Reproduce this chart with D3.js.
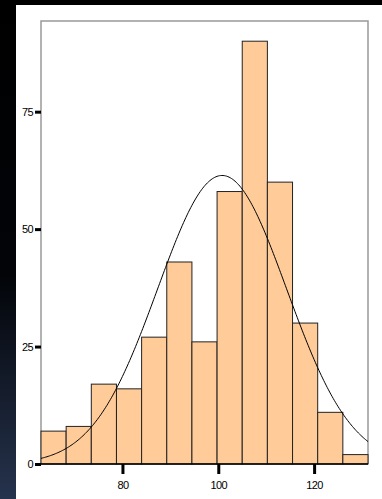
<!DOCTYPE html>
<html>
<head>
<meta charset="utf-8">
<script src="https://cdn.jsdelivr.net/npm/d3@7"></script>
<style>
  html, body { margin: 0; padding: 0; background: #000; }
  svg { display: block; }
  text { font-family: "Liberation Sans", Arial, sans-serif; font-size: 11px; fill: #000; }
</style>
</head>
<body>
<div id="chart"></div>
<script>
// Histogram bins (lower edges) and counts
const binStart = 63;
const binWidth = 5.25;
const counts = [7, 8, 17, 16, 27, 43, 26, 58, 90, 60, 30, 11, 2];
const xTicks = [80, 100, 120];
const yTicks = [0, 25, 50, 75];
// Fitted normal curve parameters
const mean = 100.8;
const stdDev = 13.47;

const width = 382, height = 499;
const margin = { left: 41, top: 21, right: 14, bottom: 35 };

const svg = d3.select("#chart")
    .append("svg")
    .attr("width", width)
    .attr("height", height);

// Background: dark strip on the left with a gradient, white panel
const defs = svg.append("defs");
const grad = defs.append("linearGradient")
    .attr("id", "bg")
    .attr("x1", 0).attr("y1", 0).attr("x2", 0).attr("y2", 1);
grad.append("stop").attr("offset", "0%").attr("stop-color", "#000");
grad.append("stop").attr("offset", "55%").attr("stop-color", "#020408");
grad.append("stop").attr("offset", "100%").attr("stop-color", "#26334d");

svg.append("rect")
    .attr("width", width).attr("height", height)
    .attr("fill", "url(#bg)");
svg.append("rect")
    .attr("x", 16).attr("y", 5)
    .attr("width", width - 16).attr("height", height - 5)
    .attr("fill", "#fff");

const bins = counts.map((c, i) => ({
    x0: binStart + i * binWidth,
    x1: binStart + (i + 1) * binWidth,
    count: c
}));

const x = d3.scaleLinear()
    .domain([binStart, binStart + counts.length * binWidth])
    .range([margin.left, width - margin.right]);

const y = d3.scaleLinear()
    .domain([0, 94.3])
    .range([height - margin.bottom, margin.top]);

// Plot frame (gray on top and right/left)
svg.append("path")
    .attr("d", `M${x.range()[0]},${y(0)}V${y.range()[1]}H${x.range()[1]}V${y(0)}`)
    .attr("fill", "none")
    .attr("stroke", "#999")
    .attr("stroke-width", 1.5);

// Bars
svg.append("g")
    .selectAll("rect")
    .data(bins)
    .enter()
    .append("rect")
    .attr("x", d => x(d.x0))
    .attr("y", d => y(d.count))
    .attr("width", d => x(d.x1) - x(d.x0))
    .attr("height", d => y(0) - y(d.count))
    .attr("fill", "#ffcc99")
    .attr("stroke", "#222")
    .attr("stroke-width", 1);

// Normal curve
const total = d3.sum(counts);
const norm = v => total * binWidth / (stdDev * Math.sqrt(2 * Math.PI)) *
    Math.exp(-0.5 * Math.pow((v - mean) / stdDev, 2));
const curvePts = d3.range(x.domain()[0], x.domain()[1] + 0.01, 0.25);
svg.append("path")
    .datum(curvePts)
    .attr("fill", "none")
    .attr("stroke", "#000")
    .attr("stroke-width", 1)
    .attr("d", d3.line().x(d => x(d)).y(d => y(norm(d))));

// Baseline
svg.append("line")
    .attr("x1", x.range()[0]).attr("x2", x.range()[1])
    .attr("y1", y(0)).attr("y2", y(0))
    .attr("stroke", "#000")
    .attr("stroke-width", 1.5);

// Y axis
const yAxis = svg.append("g")
    .attr("transform", `translate(${margin.left},0)`)
    .call(d3.axisLeft(y).tickValues(yTicks).tickSize(6).tickPadding(2).tickFormat(d3.format("d")));
yAxis.select(".domain").remove();
yAxis.selectAll(".tick line").attr("stroke", "#000").attr("stroke-width", 3);
yAxis.selectAll("text").attr("font-size", 11).attr("font-family", null).attr("letter-spacing", "-0.6");

// X axis
const xAxis = svg.append("g")
    .attr("transform", `translate(0,${y(0)})`)
    .call(d3.axisBottom(x).tickValues(xTicks).tickSize(10).tickPadding(7).tickFormat(d3.format("d")));
xAxis.select(".domain").remove();
xAxis.selectAll(".tick line").attr("stroke", "#000").attr("stroke-width", 3);
xAxis.selectAll("text").attr("font-size", 11).attr("font-family", null).attr("letter-spacing", "-0.6");
</script>
</body>
</html>
